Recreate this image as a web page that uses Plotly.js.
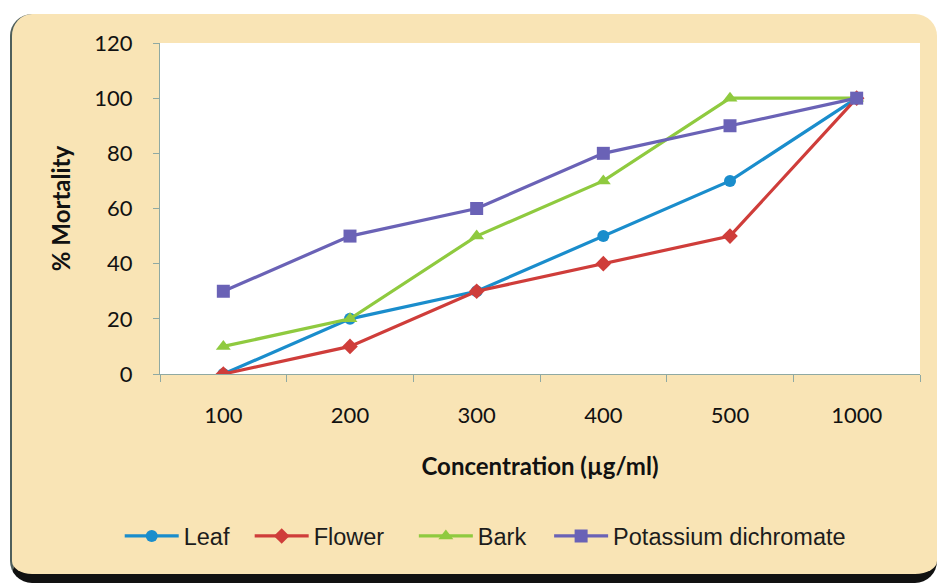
<!DOCTYPE html>
<html>
<head>
<meta charset="utf-8">
<script src="https://cdn.plot.ly/plotly-3.0.1.min.js"></script>
<style>
  html, body { margin: 0; padding: 0; background: #ffffff; }
  #wrap { position: relative; width: 940px; height: 583px; overflow: hidden; }
  #frame {
    position: absolute; left: 10px; top: 14px; width: 927px; height: 569px;
    background: #f9e4b5; border-radius: 22px;
    border-left: 2px solid #4f5f5c; border-bottom: 9px solid #111;
    box-sizing: border-box;
  }
  #chart { position: absolute; left: 0; top: 0; width: 940px; height: 583px; }
</style>
</head>
<body>
<div id="wrap">
  <div id="frame"></div>
  <div id="chart"></div>
</div>
<script>
// Concentration levels (µg/ml) and % mortality per extract
const concentrations = ['100', '200', '300', '400', '500', '1000'];
const leaf = [0, 20, 30, 50, 70, 100];
const flower = [0, 10, 30, 40, 50, 100];
const bark = [10, 20, 50, 70, 100, 100];
const potassiumDichromate = [30, 50, 60, 80, 90, 100];

const seriesNames = ['Leaf', 'Flower', 'Bark', 'Potassium dichromate'];
const seriesValues = [leaf, flower, bark, potassiumDichromate];
const seriesColors = ['#1a8dcc', '#cf3d3a', '#8fca3f', '#6a62b6'];
const seriesSymbols = ['circle', 'diamond', 'triangle-up', 'square'];
const markerSizes = [12, 12, 13, 13];

// each series gets its own legend box so the entries can be spaced freely
const legendIds = ['legend', 'legend2', 'legend3', 'legend4'];
const legendX = [-0.053, 0.118, 0.334, 0.512];

const traces = seriesNames.map((name, i) => ({
  type: 'scatter',
  mode: 'lines+markers',
  name: name,
  x: concentrations,
  y: seriesValues[i],
  legend: legendIds[i],
  line: { color: seriesColors[i], width: 3.2 },
  marker: { color: seriesColors[i], symbol: seriesSymbols[i], size: markerSizes[i] }
}));

const axisColor = '#8fa9a3';
const tickFont = { family: 'Lato, "Open Sans", sans-serif', size: 22, color: '#111' };
const titleFont = { family: 'Lato, "Open Sans", sans-serif', size: 24, color: '#111', weight: 'bold' };
const legendFont = { family: '"Liberation Sans", Arial, sans-serif', size: 23.5, color: '#1c1c1c' };

const layout = {
  width: 940,
  height: 583,
  margin: { l: 160, r: 20, t: 43, b: 209 },
  paper_bgcolor: 'rgba(0,0,0,0)',
  plot_bgcolor: '#ffffff',
  showlegend: true,
  xaxis: {
    type: 'category',
    range: [-0.5, 5.5],
    tickson: 'boundaries',
    ticks: 'outside',
    ticklen: 7,
    tickcolor: axisColor,
    showline: true,
    linecolor: axisColor,
    linewidth: 1,
    showgrid: false,
    zeroline: false,
    tickfont: tickFont,
    ticklabelstandoff: 22,
    title: { text: 'Concentration (µg/ml)', font: titleFont, standoff: 30 }
  },
  yaxis: {
    range: [0, 120],
    dtick: 20,
    ticks: 'outside',
    ticklen: 6,
    tickcolor: axisColor,
    showline: true,
    linecolor: axisColor,
    linewidth: 1,
    showgrid: false,
    zeroline: false,
    tickfont: tickFont,
    ticklabelstandoff: 16,
    title: { text: '% Mortality', font: titleFont, standoff: 16 }
  }
};

legendIds.forEach((id, i) => {
  layout[id] = {
    orientation: 'h',
    x: legendX[i],
    xanchor: 'left',
    y: -0.49,
    yanchor: 'middle',
    itemwidth: 54,
    font: legendFont,
    bgcolor: 'rgba(0,0,0,0)'
  };
});

Plotly.newPlot('chart', traces, layout, { displayModeBar: false, staticPlot: true });
</script>
</body>
</html>
